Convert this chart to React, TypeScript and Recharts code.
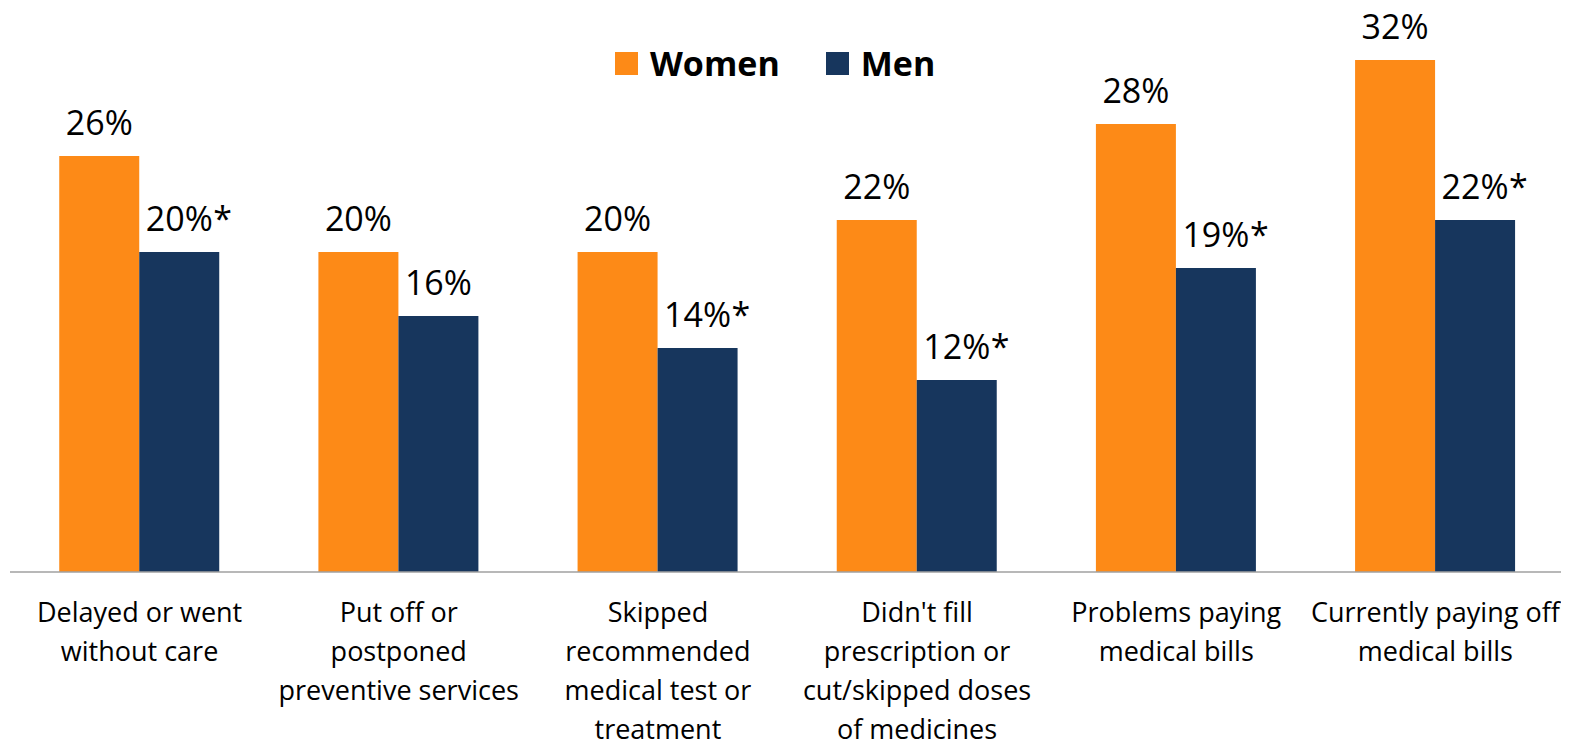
import React from 'react';
import { BarChart, Bar, XAxis, YAxis, LabelList } from 'recharts';

const categories: string[][] = [
  ['Delayed or went', 'without care'],
  ['Put off or', 'postponed', 'preventive services'],
  ['Skipped', 'recommended', 'medical test or', 'treatment'],
  ["Didn't fill", 'prescription or', 'cut/skipped doses', 'of medicines'],
  ['Problems paying', 'medical bills'],
  ['Currently paying off', 'medical bills'],
];
const women = [26, 20, 20, 22, 28, 32];
const men = [20, 16, 14, 12, 19, 22];
const menSignificant = [true, false, true, true, true, true];
const seriesNames = ['Women', 'Men'];

const ORANGE = '#FD8A17';
const NAVY = '#17365D';
const FONT = '"Open Sans", sans-serif';

const data = categories.map((c, i) => ({
  key: String(i),
  women: women[i],
  men: men[i],
}));

const CategoryTick = (props: any) => {
  const { x, y, payload } = props;
  const lines = categories[Number(payload.value)];
  return (
    <g>
      {lines.map((l, i) => (
        <text
          key={i}
          x={x}
          y={y + 42 + i * 39}
          textAnchor="middle"
          fontFamily={FONT}
          fontSize={27}
          fill="#000"
        >
          {l}
        </text>
      ))}
    </g>
  );
};

const makeLabel = (stars: boolean[] | null) => (props: any) => {
  const { x, y, width, value, index } = props;
  const cx = x + width / 2;
  const by = y - 21;
  return (
    <g>
      <text x={cx} y={by} textAnchor="middle" fontFamily={FONT} fontSize={34} fill="#000">
        {value}%
      </text>
      {stars && stars[index] ? (
        <text x={cx + 34} y={by} textAnchor="start" fontFamily={FONT} fontSize={34} fill="#000">
          *
        </text>
      ) : null}
    </g>
  );
};

const LegendBox = () => (
  <div
    style={{
      position: 'absolute',
      top: 32,
      left: 607,
      display: 'flex',
      alignItems: 'center',
      fontFamily: FONT,
      fontWeight: 700,
      fontSize: 34,
      color: '#000',
      lineHeight: '46px',
    }}
  >
    <span style={{ width: 23, height: 23, background: ORANGE, display: 'inline-block', marginRight: 12 }} />
    <span style={{ marginRight: 46 }}>{seriesNames[0]}</span>
    <span style={{ width: 23, height: 23, background: NAVY, display: 'inline-block', marginRight: 12 }} />
    <span>{seriesNames[1]}</span>
  </div>
);

export default function App() {
  return (
    <div style={{ background: '#fff', position: 'relative', width: 1561, height: 735 }}>
      <BarChart
        width={1561}
        height={735}
        data={data}
        margin={{ top: 4, right: 4, bottom: 0, left: 2 }}
        barCategoryGap="19%"
        barGap={0}
      >
        <XAxis
          dataKey="key"
          tick={<CategoryTick />}
          tickLine={false}
          axisLine={{ stroke: '#A0A0A0', strokeWidth: 1.5 }}
          interval={0}
          height={171}
        />
        <YAxis hide domain={[0, 35]} />
        <Bar dataKey="women" name={seriesNames[0]} fill={ORANGE} isAnimationActive={false}>
          <LabelList dataKey="women" content={makeLabel(null)} />
        </Bar>
        <Bar dataKey="men" name={seriesNames[1]} fill={NAVY} isAnimationActive={false}>
          <LabelList dataKey="men" content={makeLabel(menSignificant)} />
        </Bar>
      </BarChart>
      <LegendBox />
    </div>
  );
}
